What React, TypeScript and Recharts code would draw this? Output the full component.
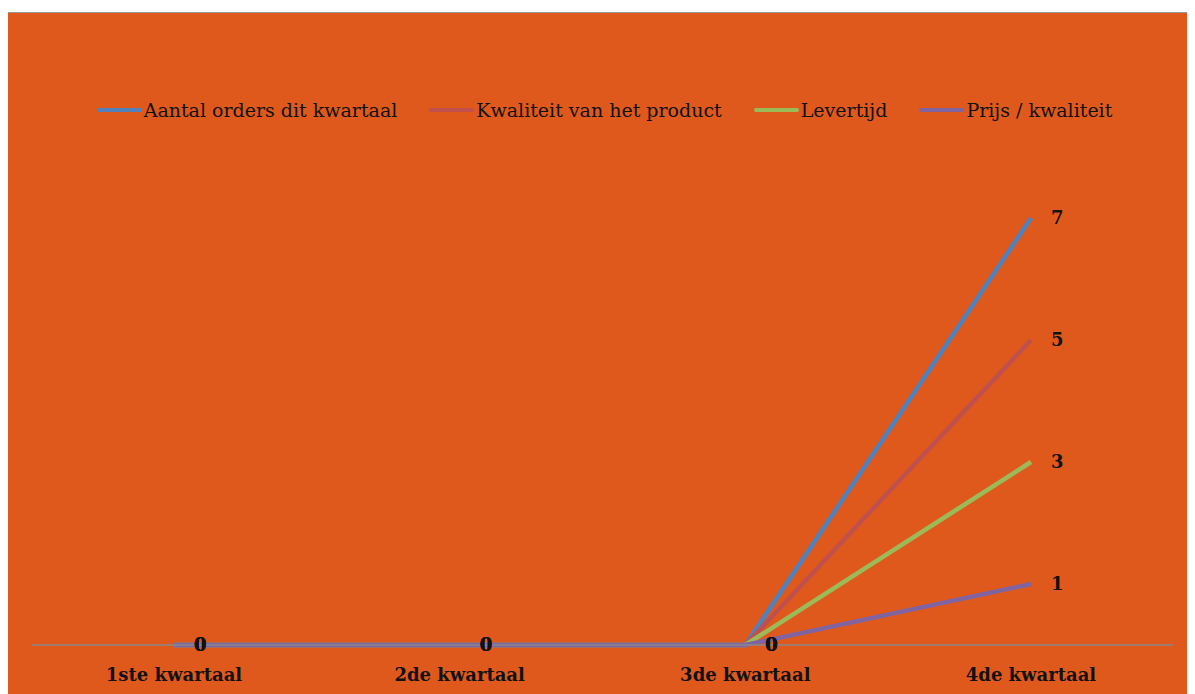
import React from 'react';
import { LineChart, Line, XAxis, YAxis, Legend, LabelList } from 'recharts';

const quarters = ['1ste kwartaal', '2de kwartaal', '3de kwartaal', '4de kwartaal'];
const orders = [0, 0, 0, 7];
const quality = [0, 0, 0, 5];
const deliveryTime = [0, 0, 0, 3];
const priceQuality = [0, 0, 0, 1];

const series = [
  { key: 'orders', name: 'Aantal orders dit kwartaal', color: '#4F81BD' },
  { key: 'quality', name: 'Kwaliteit van het product', color: '#C0504D' },
  { key: 'delivery', name: 'Levertijd', color: '#9BBB59' },
  { key: 'price', name: 'Prijs / kwaliteit', color: '#8064A2' },
];

const data = quarters.map((q, i) => ({
  quarter: q,
  orders: orders[i],
  quality: quality[i],
  delivery: deliveryTime[i],
  price: priceQuality[i],
}));

const font = "'DejaVu Serif', 'Liberation Serif', serif";

const renderLegend = () => (
  <div style={{ display: 'flex', justifyContent: 'center', alignItems: 'center', fontFamily: font, fontSize: 19, color: '#111', paddingLeft: 4 }}>
    {series.map((s, i) => (
      <div key={s.key} style={{ display: 'flex', alignItems: 'center', marginRight: i === series.length - 1 ? 0 : 32 }}>
        <span style={{ display: 'inline-block', width: 45, height: 4, background: s.color, borderRadius: 2, marginRight: 2 }} />
        <span>{s.name}</span>
      </div>
    ))}
  </div>
);

export default function App() {
  return (
    <div style={{ marginLeft: -1, marginTop: 4, width: 1200, height: 690, background: '#E0591C', border: '1px solid #9a9a9a', boxSizing: 'border-box', overflow: 'hidden' }}>
      <LineChart width={1198} height={688} data={data} margin={{ top: 122, right: 33, bottom: 26, left: 24 }}>
        <XAxis
          dataKey="quarter"
          stroke="#8a8a8a"
          strokeWidth={1.5}
          tickLine={false}
          tickMargin={17}
          padding={{ left: 142, right: 142 }}
          tick={{ fill: '#111', fontFamily: font, fontSize: 18, fontWeight: 'bold' }}
        />
        <YAxis hide domain={[0, 8]} />
        <Legend verticalAlign="top" content={renderLegend} wrapperStyle={{ top: 86 }} />
        {series.map((s) => (
          <Line
            key={s.key}
            type="linear"
            dataKey={s.key}
            name={s.name}
            stroke={s.color}
            strokeWidth={4.5}
            dot={false}
            isAnimationActive={false}
          >
            <LabelList dataKey={s.key} position="right" offset={20} fill="#111" fontFamily={font} fontSize={18} fontWeight="bold" />
          </Line>
        ))}
      </LineChart>
    </div>
  );
}
